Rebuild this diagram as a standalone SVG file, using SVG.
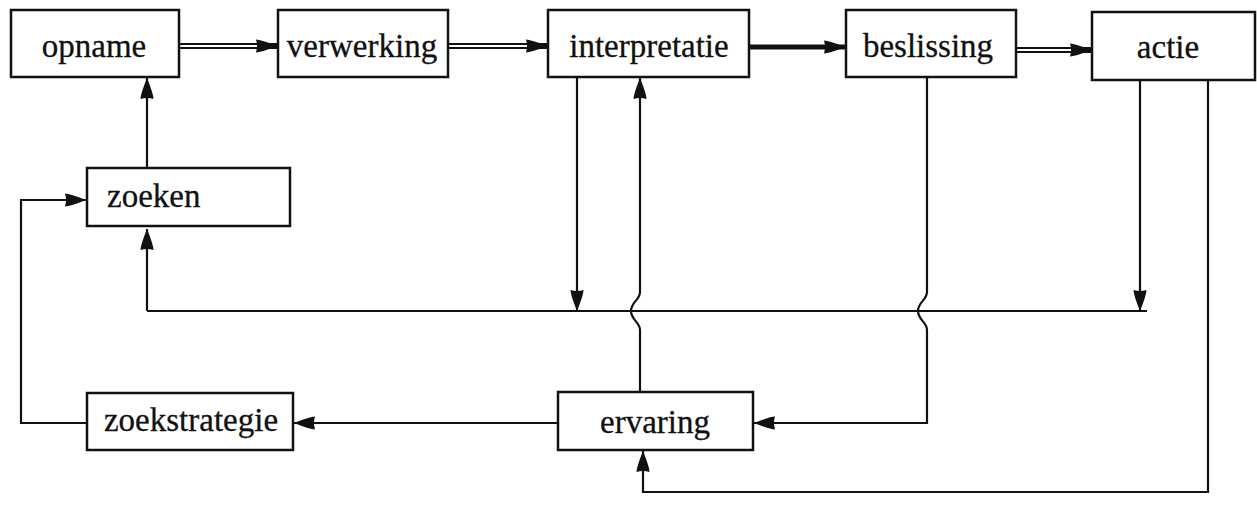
<svg xmlns="http://www.w3.org/2000/svg" width="1257" height="522" viewBox="0 0 1257 522">
<style>
.box{fill:#fff;stroke:#111;stroke-width:2.5}
.lbl{font-family:"Liberation Serif","Times New Roman",serif;font-size:33px;fill:#111;stroke:#111;stroke-width:0.3;text-anchor:middle}
.ln{fill:none;stroke:#111;stroke-width:2.2}
.dbl{fill:none;stroke:#111;stroke-width:6}
.gap{fill:none;stroke:#fff;stroke-width:2}
</style>
<defs>
<marker id="ah" markerUnits="userSpaceOnUse" markerWidth="22" markerHeight="16" refX="21" refY="8" orient="auto">
<path d="M0,1.5 Q5,1.5 21,8 Q5,14.5 0,14.5 Q2,8 0,1.5 z" fill="#111"/>
</marker>
</defs>
<g id="connectors">
<path class="dbl" d="M179,46 H277" marker-end="url(#ah)"/>
<path class="gap" d="M179,46 H257"/>
<path class="dbl" d="M448,46 H547" marker-end="url(#ah)"/>
<path class="gap" d="M448,46 H527"/>
<path class="ln" style="stroke-width:5" d="M749,47 H845" marker-end="url(#ah)"/>
<path class="dbl" d="M1016,50 H1091" marker-end="url(#ah)"/>
<path class="gap" d="M1016,50 H1071"/>
<path class="ln" d="M147,168 V78" marker-end="url(#ah)"/>
<path class="ln" d="M147,311 H1147"/>
<path class="ln" d="M147,311 V229" marker-end="url(#ah)"/>
<path class="ln" d="M577,77 V311" marker-end="url(#ah)"/>
<path class="ln" d="M1140,80 V311" marker-end="url(#ah)"/>
<path class="ln" d="M640,392 V330 C640,322 631,320 631,311 C631,302 640,300 640,292 V78" marker-end="url(#ah)"/>
<path class="ln" d="M927,77 V292 C927,300 918,302 918,311 C918,320 927,322 927,330 V423 H754" marker-end="url(#ah)"/>
<path class="ln" d="M558,423 H294" marker-end="url(#ah)"/>
<path class="ln" d="M87,423 H21 V200 H86" marker-end="url(#ah)"/>
<path class="ln" d="M1208,80 V492 H643 V451" marker-end="url(#ah)"/>
</g>
<g id="opname"><rect class="box" x="11" y="10" width="168" height="67"/><text class="lbl" x="94" y="57">opname</text></g>
<g id="verwerking"><rect class="box" x="278" y="10" width="170" height="67"/><text class="lbl" x="362" y="57">verwerking</text></g>
<g id="interpretatie"><rect class="box" x="548" y="10" width="201" height="67"/><text class="lbl" x="649" y="57">interpretatie</text></g>
<g id="beslissing"><rect class="box" x="846" y="10" width="170" height="67"/><text class="lbl" x="928" y="57">beslissing</text></g>
<g id="actie"><rect class="box" x="1092" y="12" width="163" height="68"/><text class="lbl" x="1168" y="58">actie</text></g>
<g id="zoeken"><rect class="box" x="87" y="168" width="203" height="58"/><text class="lbl" x="107" y="207" style="text-anchor:start">zoeken</text></g>
<g id="zoekstrategie"><rect class="box" x="87" y="393" width="206" height="57"/><text class="lbl" x="191" y="431">zoekstrategie</text></g>
<g id="ervaring"><rect class="box" x="558" y="392" width="195" height="58"/><text class="lbl" x="655" y="433">ervaring</text></g>
</svg>
